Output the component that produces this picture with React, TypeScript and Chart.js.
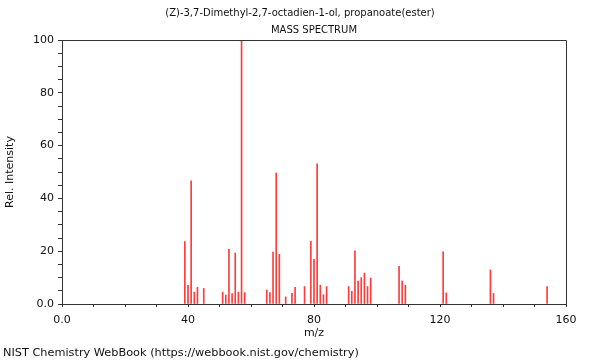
import React, { useEffect, useRef } from "react";
import { Chart, registerables } from "chart.js";

Chart.register(...registerables);

const titleLine1 = "(Z)-3,7-Dimethyl-2,7-octadien-1-ol, propanoate(ester)";
const titleLine2 = "MASS SPECTRUM";
const footerText = "NIST Chemistry WebBook (https://webbook.nist.gov/chemistry)";
const xAxisTitle = "m/z";
const yAxisTitle = "Rel. Intensity";

const mzValues = [
  39, 40, 41, 42, 43, 45,
  51, 52, 53, 54, 55, 56, 57, 58,
  65, 66, 67, 68, 69, 71,
  73, 74, 77, 79, 80, 81, 82, 83, 84,
  91, 92, 93, 94, 95, 96, 97, 98,
  107, 108, 109,
  121, 122,
  136, 137,
  154,
];
const intensities = [
  23.6, 7.1, 46.7, 4.5, 6.3, 5.9,
  4.5, 3.4, 20.7, 3.9, 19.3, 4.5, 100, 4.3,
  5.3, 4.3, 19.7, 49.6, 18.8, 2.7,
  4.0, 6.3, 6.6, 23.7, 16.9, 53.1, 7.1, 3.5, 6.6,
  6.6, 4.8, 20.1, 8.7, 10.0, 11.7, 6.6, 9.8,
  14.3, 8.7, 7.1,
  19.8, 4.2,
  12.9, 4.0,
  6.6,
];
const xLabeledTicks = [0, 40, 80, 120, 160];
const yLabeledTicks = [0, 20, 40, 60, 80, 100];

const FONT = '"DejaVu Sans", sans-serif';
const AXIS_COLOR = "#333";

const framePlugin = {
  id: "frameAndTexts",
  afterDraw(chart: any) {
    const { ctx, chartArea } = chart;
    const { left, top, right, bottom } = chartArea;
    ctx.save();
    ctx.strokeStyle = AXIS_COLOR;
    ctx.lineWidth = 1;
    ctx.beginPath();
    ctx.moveTo(Math.round(left) + 0.5, Math.round(top) + 0.5);
    ctx.lineTo(Math.round(right) + 0.5, Math.round(top) + 0.5);
    ctx.lineTo(Math.round(right) + 0.5, Math.round(bottom) + 0.5);
    ctx.stroke();

    ctx.fillStyle = "#111";
    ctx.textBaseline = "middle";
    ctx.textAlign = "center";
    ctx.font = `10px ${FONT}`;
    ctx.fillText(titleLine1, 300, 13);
    ctx.fillText(titleLine2, (left + right) / 2, 30);
    ctx.textAlign = "left";
    ctx.font = `11.3px ${FONT}`;
    ctx.fillText(footerText, 3, 353);
    ctx.restore();
  },
};

export default function App() {
  const canvasRef = useRef<HTMLCanvasElement | null>(null);

  useEffect(() => {
    if (!canvasRef.current) return;
    const chart = new Chart(canvasRef.current, {
      type: "bar",
      data: {
        datasets: [
          {
            data: mzValues.map((m, i) => ({ x: m, y: intensities[i] })),
            backgroundColor: "#ff3b3b",
            borderWidth: 0,
            barThickness: 1,
          },
        ],
      },
      options: {
        responsive: false,
        animation: false,
        layout: { padding: { left: 0, right: 34, top: 40, bottom: 16 } },
        plugins: {
          legend: { display: false },
          title: { display: false },
          tooltip: { enabled: false },
        },
        scales: {
          x: {
            type: "linear",
            min: 0,
            max: 160,
            offset: false,
            afterFit: (scale: any) => {
              scale.height = 40;
            },
            ticks: {
              stepSize: 10,
              autoSkip: false,
              maxRotation: 0,
              padding: 7,
              color: "#111",
              font: { family: FONT, size: 11 },
              callback: (v: any) =>
                xLabeledTicks.includes(Number(v)) ? (Number(v) === 0 ? "0.0" : String(v)) : "",
            },
            grid: {
              drawOnChartArea: false,
              drawTicks: true,
              tickLength: 3,
              color: AXIS_COLOR,
              offset: false,
            },
            border: { display: true, color: AXIS_COLOR, width: 1 },
            title: {
              display: true,
              text: xAxisTitle,
              color: "#111",
              font: { family: FONT, size: 11 },
              padding: { top: 0, bottom: 4 },
            },
          },
          y: {
            min: 0,
            max: 100,
            afterFit: (scale: any) => {
              scale.width = 62;
            },
            ticks: {
              stepSize: 5,
              autoSkip: false,
              padding: 4,
              color: "#111",
              font: { family: FONT, size: 11 },
              callback: (v: any) =>
                yLabeledTicks.includes(Number(v)) ? (Number(v) === 0 ? "0.0" : String(v)) : "",
            },
            grid: {
              drawOnChartArea: false,
              drawTicks: true,
              tickLength: 4,
              color: AXIS_COLOR,
            },
            border: { display: true, color: AXIS_COLOR, width: 1 },
            title: {
              display: true,
              text: yAxisTitle,
              color: "#111",
              font: { family: FONT, size: 11 },
              padding: { top: 4, bottom: 0 },
            },
          },
        },
      },
      plugins: [framePlugin],
    });
    return () => chart.destroy();
  }, []);

  return (
    <div style={{ position: "fixed", left: 0, top: 0, width: 600, height: 360, background: "#fff" }}>
      <canvas ref={canvasRef} width={600} height={360} />
    </div>
  );
}
